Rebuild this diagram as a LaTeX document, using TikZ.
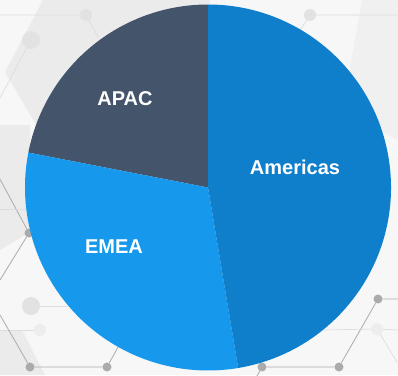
\documentclass[tikz,border=0pt]{standalone}
\usepackage{fontspec}
\setmainfont{Liberation Sans}
\usepackage{tikz}
\usetikzlibrary{positioning}

\definecolor{americasblue}{HTML}{0F7FCC}
\definecolor{emeablue}{HTML}{1698EC}
\definecolor{apacslate}{HTML}{44546A}
\definecolor{netgray}{HTML}{ABABAB}
\definecolor{bandgray}{HTML}{EBEBEB}

\begin{document}
\begin{tikzpicture}[x=1pt,y=-1pt,
         net/.style={draw=netgray,line width=0.8pt},
         faintnet/.style={draw=netgray!40,line width=0.7pt},
         hub/.style={circle,inner sep=0pt,minimum size=9pt,fill=netgray},
         softhub/.style={circle,inner sep=0pt,minimum size=12pt,fill=netgray!35},
         region/.style={text=white,font=\fontsize{20}{24}\selectfont\bfseries}]
            \useasboundingbox (0,0) rectangle (398,375);
            \fill[white!97!black] (0,0) rectangle (398,375);
            % light bands behind the network
            \fill[bandgray] (43,0) -- (210,0) -- (210,190) -- (45,140) -- (5,72) -- cycle;
            \fill[bandgray] (0,125) -- (30,125) -- (30,232) -- (0,250) -- cycle;
            \fill[bandgray] (0,330) -- (22,330) -- (45,375) -- (0,375) -- cycle;
            \fill[black!6] (362,0) -- (398,0) -- (398,140) -- (342,112) -- cycle;
            % network hubs
            \node[softhub] (tl1) at (86,15) {};
            \node[softhub,minimum size=18pt] (tl2) at (31,40) {};
            \node[softhub] (tr1) at (310,15) {};
            \node[hub] (ml1) at (29,233) {};
            \node[softhub,minimum size=18pt] (bl1) at (31,306) {};
            \node[softhub,fill=netgray!22] (bl2) at (40,330) {};
            \node[hub] (bl3) at (30,367) {};
            \node[hub] (bl4) at (107,367) {};
            \node[hub] (br1) at (262,367) {};
            \node[hub] (br2) at (339,367) {};
            \node[hub] (br3) at (378,299) {};
            \node[softhub,fill=netgray!22] (br4) at (377,329) {};
            \coordinate (tlend) at (0,15);
            \coordinate (tlin) at (98,37);
            \coordinate (tl2end) at (0,98);
            \coordinate (trend) at (398,15);
            \coordinate (trin) at (300,30);
            \coordinate (mlup) at (-5,170);
            \coordinate (mldown) at (0,280);
            \coordinate (blup) at (0,315);
            \coordinate (blin) at (122,340);
            \coordinate (bl1end) at (68,306);
            \coordinate (bl2end) at (0,330);
            \coordinate (brend) at (398,299);
            \coordinate (br4end) at (323,330);
            \coordinate (br4right) at (398,330);
            \coordinate (br4down) at (397,362);
            % network links
            \draw[faintnet] (tlend) -- (tl1) -- (tlin);
            \draw[faintnet] (tl2) -- (tl2end);
            \draw[faintnet] (trend) -- (tr1) -- (trin);
            \draw[net] (mlup) -- (ml1) -- (mldown);
            \draw[faintnet] (0,209) -- (30,209);
            \draw[faintnet] (bl1) -- (bl1end);
            \draw[faintnet] (bl2end) -- (bl2);
            \draw[net] (blup) -- (bl3) -- (bl4) -- (blin);
            \draw[net] (br1) -- (br2) -- (br3) -- (brend);
            \draw[net] (br1) -- (257,376);
            \draw[faintnet] (br4end) -- (br4) -- (br4right);
            \draw[faintnet] (br4) -- (br4down);
            % pie
            \coordinate (o) at (208,187.5);
            \fill[apacslate] (o) -- ++(-90:183) arc (-90:-169:183) -- cycle;
            \fill[emeablue] (o) -- ++(-169:183) arc (-169:-279.5:183) -- cycle;
            \fill[americasblue] (o) -- ++(-279.5:183) arc (-279.5:-450:183) -- cycle;
            \node[region] (apac) at (125,99) {APAC};
            \node[region] (americas) at (295,167) {Americas};
            \node[region] (emea) at (114,247) {EMEA};
         \end{tikzpicture}
\end{document}
